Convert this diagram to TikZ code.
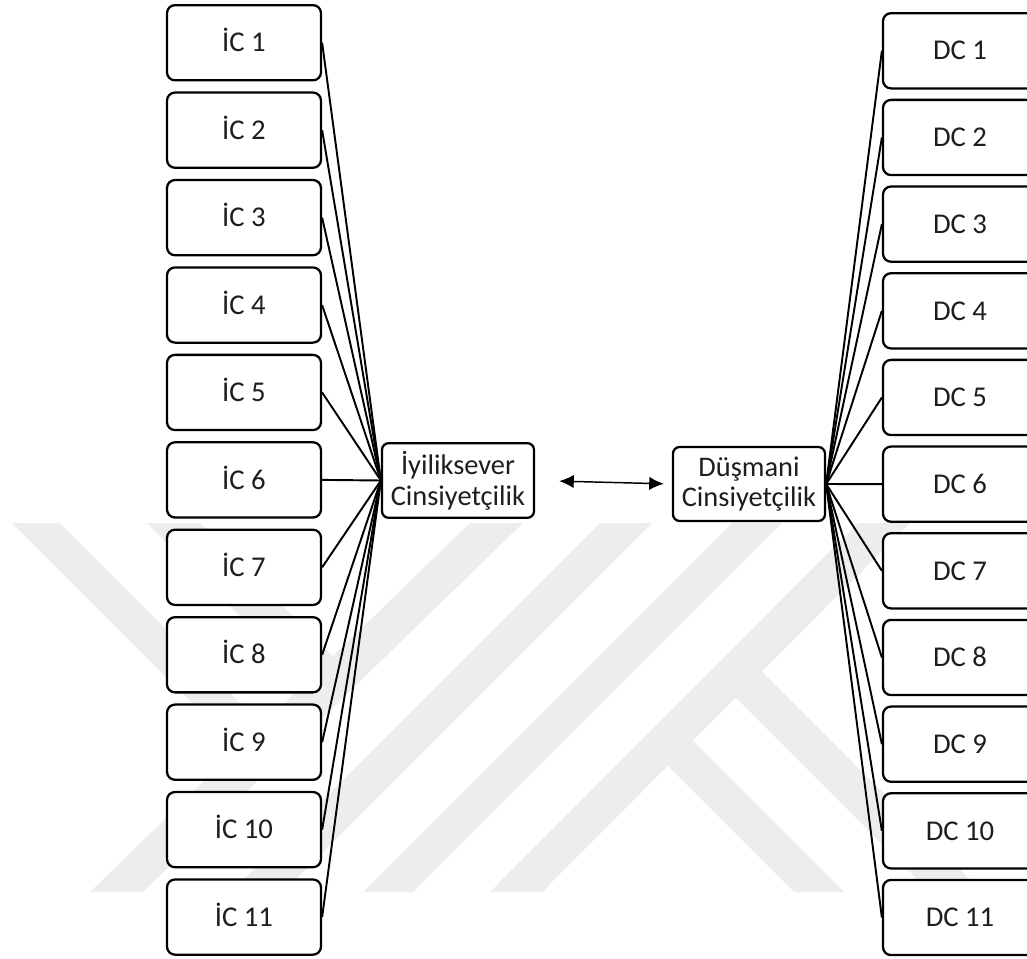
\documentclass[tikz,border=0pt]{standalone}
\usepackage{fontspec}
\setmainfont{Carlito}
\usetikzlibrary{arrows.meta}
\definecolor{wm}{RGB}{237,237,237}
\definecolor{txt}{RGB}{30,30,30}
\begin{document}
\begin{tikzpicture}[x=0.75pt,y=-0.75pt,
  itembox/.style={draw=black, line width=1.7pt, rounded corners=6pt, fill=white,
    minimum width=115.5pt, minimum height=56.4pt, inner sep=0pt, text=txt,
    font=\fontsize{21.5pt}{25pt}\selectfont, text height=13.8pt, text depth=0pt},
  mainbox/.style={draw=black, line width=1.7pt, rounded corners=5pt, fill=white,
    minimum width=114pt, minimum height=56pt, inner sep=0pt, align=center, text=txt,
    font=\fontsize{21.3pt}{23pt}\selectfont},
  link/.style={line width=1.45pt},
  biarrow/.style={line width=1.1pt, {Latex[length=11pt,width=10pt]}-{Latex[length=11pt,width=10pt]}}]
\useasboundingbox (0,0) rectangle (1027,959);
\clip (0,0) rectangle (1027,959);
\fill[white] (0,0) rectangle (1027,959);
% faint watermark
\fill[wm] (90,892) -- (143,892) -- (523,523) -- (470,523) -- cycle;
\fill[wm] (12,523) -- (60,523) -- (262,725) -- (237.6,748.6) -- cycle;
\fill[wm] (147,523) -- (200,523) -- (333,656) -- (306,682) -- cycle;
\fill[wm] (600,523) -- (652,523) -- (283,892) -- (231,892) -- cycle;
\fill[wm] (363,892) -- (413,892) -- (782,523) -- (732,523) -- cycle;
\fill[wm] (490,892) -- (542,892) -- (910,523) -- (858,523) -- cycle;
\fill[wm] (667.5,765.5) -- (692.5,740.5) -- (844,892) -- (794,892) -- cycle;
\fill[wm] (735.5,697.5) -- (761.5,671.5) -- (982,892) -- (930,892) -- cycle;
% boxes
\foreach \i in {1,...,11} {
  \node[itembox] (ic\i) at (244,{42.75+87.43*(\i-1)}) {İC \i};
  \node[itembox] (dc\i) at (960,{50.8+86.67*(\i-1)}) {DC \i};
}
\node[mainbox] (iyi) at (458,480.5) {İyiliksever\\Cinsiyetçilik};
\node[mainbox, minimum height=55.5pt] (dus) at (749,484) {Düşmani\\Cinsiyetçilik};
% connectors
\foreach \i in {1,...,11} {
  \draw[link] (ic\i.east) -- (iyi.west);
  \draw[link] (dus.east) -- (dc\i.west);
}
\draw[biarrow, shorten <=18pt, shorten >=6pt] (iyi.east) -- (dus.west);
\end{tikzpicture}
\end{document}
